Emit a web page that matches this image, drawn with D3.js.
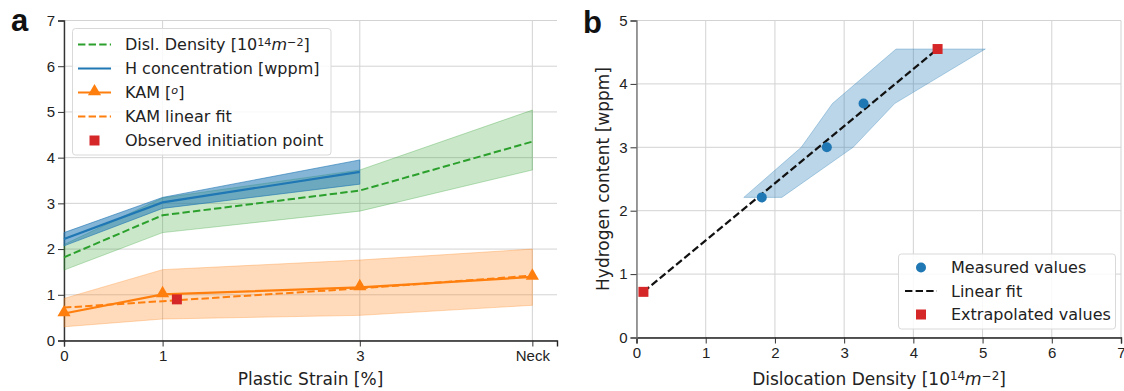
<!DOCTYPE html>
<html>
<head>
<meta charset="utf-8">
<script src="https://cdn.jsdelivr.net/npm/d3@7"></script>
<style>
  body { margin: 0; background: #fff; }
  svg { font-family: "DejaVu Sans", sans-serif; }
</style>
</head>
<body>
<svg id="chart" width="1124" height="391"></svg>
<script>
// panel a data
let strainLabels = ["0", "1", "3", "Neck"];
let strainPos = [0, 1, 3, 4.75];
let dislMean = [1.82, 2.74, 3.28, 4.35];
let dislLow = [1.54, 2.36, 2.83, 3.73];
let dislHigh = [2.10, 3.12, 3.73, 5.04];
let hMean = [2.22, 3.02, 3.69];
let hLow = [2.07, 2.89, 3.42];
let hHigh = [2.36, 3.13, 3.95];
let kamMean = [0.59, 1.01, 1.16, 1.39];
let kamLow = [0.30, 0.47, 0.55, 0.77];
let kamHigh = [0.92, 1.55, 1.76, 2.00];
let kamFit = [0.72, 0.86, 1.14, 1.42];
let initPoint = [1.145, 0.90];

// panel b data
let measuredX = [1.81, 2.75, 3.28];
let measuredY = [2.21, 3.00, 3.69];
let extrapX = [0.10, 4.35];
let extrapY = [0.72, 4.55];
let bandY = [2.21, 3.00, 3.69, 4.55];
let bandXLow = [1.55, 2.38, 2.83, 3.75];
let bandXHigh = [2.10, 3.13, 3.73, 5.04];

const blue = "#1f77b4", orange = "#ff7f0e", green = "#2ca02c", red = "#d62728";

let svg = d3.select("#chart");

function superLabel(sel, parts) {
    // parts: [text, kind] kind: "n" normal, "s" superscript, "i" italic, "si" italic superscript
    parts.forEach(function (p) {
        let t = sel.append("tspan").text(p[0]);
        if (p[1].indexOf("s") >= 0) t.attr("baseline-shift", "38%").style("font-size", "70%");
        if (p[1].indexOf("i") >= 0) t.style("font-style", "italic");
    });
}
const dislParts = [["Disl. Density [10", "n"], ["14", "s"], ["m", "i"], ["\u22122", "s"], ["]", "n"]];

function drawAxes(g, x, y, xTicks, xFmt, yTicks, spineColor) {
    let [x0, x1] = x.range();
    let [y0, y1] = y.range();
    // grid
    g.append("g").selectAll("line.gx").data(xTicks).join("line")
        .attr("x1", d => x(d)).attr("x2", d => x(d)).attr("y1", y0).attr("y2", y1)
        .attr("stroke", "#d3d3d3").attr("stroke-width", 1);
    g.append("g").selectAll("line.gy").data(yTicks).join("line")
        .attr("x1", x0).attr("x2", x1).attr("y1", d => y(d)).attr("y2", d => y(d))
        .attr("stroke", "#d3d3d3").attr("stroke-width", 1);

    let xa = g.append("g").attr("transform", "translate(0," + y0 + ")")
        .call(d3.axisBottom(x).tickValues(xTicks).tickFormat(xFmt).tickSizeOuter(0).tickSize(6).tickPadding(4));
    let ya = g.append("g").attr("transform", "translate(" + x0 + ",0)")
        .call(d3.axisLeft(y).tickValues(yTicks).tickFormat(d3.format("d")).tickSizeOuter(0).tickSize(6).tickPadding(3));
    [xa, ya].forEach(function (a) {
        a.selectAll("text").style("font-size", "15px").attr("fill", "#222");
        a.selectAll("line").attr("stroke", "#333");
    });
    xa.select(".domain").attr("stroke", "#222").attr("stroke-width", 1.4);
    ya.select(".domain").attr("stroke", spineColor).attr("stroke-width", 1.4);
    return [xa, ya];
}

// ---------- panel a ----------
let xA = d3.scaleLinear().domain([0, 5]).range([64, 557]);
let yA = d3.scaleLinear().domain([0, 7]).range([340.5, 20.5]);
let gA = svg.append("g");
let axA = drawAxes(gA, xA, yA, strainPos, (d, i) => strainLabels[i], d3.range(0, 8), "#333");
axA[0].raise();

function band(xs, lo, hi) {
    return d3.area().x((d, i) => xA(xs[i])).y0((d, i) => yA(lo[i])).y1((d, i) => yA(hi[i]))(lo);
}
function lineA(xs, ys) {
    return d3.line().x((d, i) => xA(xs[i])).y(d => yA(d))(ys);
}

gA.append("path").attr("d", band(strainPos, dislLow, dislHigh))
    .attr("fill", green).attr("fill-opacity", 0.25).attr("stroke", green).attr("stroke-opacity", 0.3);
gA.append("path").attr("d", band(strainPos, hLow, hHigh))
    .attr("fill", blue).attr("fill-opacity", 0.55).attr("stroke", blue).attr("stroke-opacity", 0.6);
gA.append("path").attr("d", band(strainPos, kamLow, kamHigh))
    .attr("fill", orange).attr("fill-opacity", 0.28).attr("stroke", orange).attr("stroke-opacity", 0.3);

gA.append("path").attr("d", lineA(strainPos, dislMean))
    .attr("fill", "none").attr("stroke", green).attr("stroke-width", 2).attr("stroke-dasharray", "7.4,3.2");
gA.append("path").attr("d", lineA(strainPos, hMean))
    .attr("fill", "none").attr("stroke", blue).attr("stroke-width", 2.2);
gA.append("path").attr("d", lineA(strainPos, kamFit))
    .attr("fill", "none").attr("stroke", orange).attr("stroke-width", 2).attr("stroke-dasharray", "7.4,3.2");
gA.append("path").attr("d", lineA(strainPos, kamMean))
    .attr("fill", "none").attr("stroke", orange).attr("stroke-width", 2.2);

let tri = d3.symbol().type(d3.symbolTriangle).size(75);
gA.selectAll("path.kam").data(kamMean).join("path")
    .attr("d", tri).attr("fill", orange)
    .attr("transform", (d, i) => "translate(" + xA(strainPos[i]) + "," + (yA(d) - 1) + ")");
let sq = d3.symbol().type(d3.symbolSquare).size(100);
gA.append("path").attr("d", sq).attr("fill", red)
    .attr("transform", "translate(" + xA(initPoint[0]) + "," + yA(initPoint[1]) + ")");

// legend a
let legA = gA.append("g");
legA.append("rect").attr("x", 72.5).attr("y", 28.5).attr("width", 258.5).attr("height", 126.5)
    .attr("rx", 3).attr("fill", "white").attr("fill-opacity", 0.85).attr("stroke", "#d9d9d9");
let legAy = [44.5, 68.5, 92.5, 116.5, 140.5];
let legAitems = [
    {line: green, dash: "7.4,3.2"},
    {line: blue, dash: null},
    {line: orange, dash: null, tri: true},
    {line: orange, dash: "7.4,3.2"},
    {sq: true}
];
legAitems.forEach(function (it, i) {
    let yy = legAy[i];
    if (it.line) {
        let l = legA.append("line").attr("x1", 78).attr("x2", 111).attr("y1", yy).attr("y2", yy)
            .attr("stroke", it.line).attr("stroke-width", 2.2);
        if (it.dash) l.attr("stroke-dasharray", "7.4,3.2").attr("stroke-width", 2);
    }
    if (it.tri) legA.append("path").attr("d", tri).attr("fill", orange).attr("transform", "translate(94.5," + (yy - 1) + ")");
    if (it.sq) legA.append("path").attr("d", sq).attr("fill", red).attr("transform", "translate(94.5," + yy + ")");
});
let legAtext = legA.selectAll("text").data(legAy).join("text")
    .attr("x", 125).attr("y", d => d).attr("dy", "0.36em").style("font-size", "16px").attr("fill", "#222");
superLabel(d3.select(legAtext.nodes()[0]), dislParts);
d3.select(legAtext.nodes()[1]).text("H concentration [wppm]");
superLabel(d3.select(legAtext.nodes()[2]), [["KAM [", "n"], ["o", "si"], ["]", "n"]]);
d3.select(legAtext.nodes()[3]).text("KAM linear fit");
d3.select(legAtext.nodes()[4]).text("Observed initiation point");

gA.append("text").attr("x", 310.5).attr("y", 379).attr("dy", "0.36em").attr("text-anchor", "middle")
    .style("font-size", "17px").attr("fill", "#222").text("Plastic Strain [%]");
svg.append("text").attr("x", 11).attr("y", 31).style("font-family", "'Liberation Sans', Arial, sans-serif")
    .style("font-weight", "bold").style("font-size", "31px").attr("fill", "#111").text("a");

// ---------- panel b ----------
let xB = d3.scaleLinear().domain([0, 7]).range([636.5, 1121]);
let yB = d3.scaleLinear().domain([0, 5]).range([337.5, 20.5]);
let gB = svg.append("g");
let axB = drawAxes(gB, xB, yB, d3.range(0, 8), d3.format("d"), d3.range(0, 6), "#777");

let bandPts = bandY.map((d, i) => [bandXLow[i], d]).concat(bandY.map((d, i) => [bandXHigh[i], d]).reverse());
gB.append("path").attr("d", d3.line().x(d => xB(d[0])).y(d => yB(d[1]))(bandPts) + "Z")
    .attr("fill", blue).attr("fill-opacity", 0.3).attr("stroke", blue).attr("stroke-opacity", 0.3);
gB.append("line").attr("x1", xB(extrapX[0])).attr("y1", yB(extrapY[0]))
    .attr("x2", xB(extrapX[1])).attr("y2", yB(extrapY[1]))
    .attr("stroke", "#111").attr("stroke-width", 2.2).attr("stroke-dasharray", "7.4,3.2");
gB.selectAll("circle.m").data(measuredX).join("circle")
    .attr("cx", d => xB(d)).attr("cy", (d, i) => yB(measuredY[i])).attr("r", 5).attr("fill", blue);
gB.selectAll("path.e").data(extrapX).join("path")
    .attr("d", sq).attr("fill", red)
    .attr("transform", (d, i) => "translate(" + xB(d) + "," + yB(extrapY[i]) + ")");

let legB = gB.append("g");
legB.append("rect").attr("x", 898.5).attr("y", 254).attr("width", 217).attr("height", 75)
    .attr("rx", 3).attr("fill", "white").attr("fill-opacity", 0.85).attr("stroke", "#d9d9d9");
let legBy = [267.5, 291, 314.5];
legB.append("circle").attr("cx", 921).attr("cy", legBy[0]).attr("r", 5).attr("fill", blue);
legB.append("line").attr("x1", 905).attr("x2", 937).attr("y1", legBy[1]).attr("y2", legBy[1])
    .attr("stroke", "#111").attr("stroke-width", 2.2).attr("stroke-dasharray", "7.4,3.2");
legB.append("path").attr("d", sq).attr("fill", red).attr("transform", "translate(921," + legBy[2] + ")");
legB.selectAll("text").data(["Measured values", "Linear fit", "Extrapolated values"]).join("text")
    .attr("x", 951).attr("y", (d, i) => legBy[i]).attr("dy", "0.36em")
    .style("font-size", "16px").attr("fill", "#222").text(d => d);

let xlabB = gB.append("text").attr("x", 879).attr("y", 379).attr("dy", "0.36em").attr("text-anchor", "middle")
    .style("font-size", "17px").attr("fill", "#222");
superLabel(xlabB, [["Dislocation Density [10", "n"], ["14", "s"], ["m", "i"], ["\u22122", "s"], ["]", "n"]]);
gB.append("text").attr("transform", "translate(603,179) rotate(-90)").attr("dy", "0.36em")
    .attr("text-anchor", "middle").style("font-size", "17px").attr("fill", "#222").text("Hydrogen content [wppm]");
svg.append("text").attr("x", 583).attr("y", 33).style("font-family", "'Liberation Sans', Arial, sans-serif")
    .style("font-weight", "bold").style("font-size", "31px").attr("fill", "#111").text("b");
</script>
</body>
</html>
